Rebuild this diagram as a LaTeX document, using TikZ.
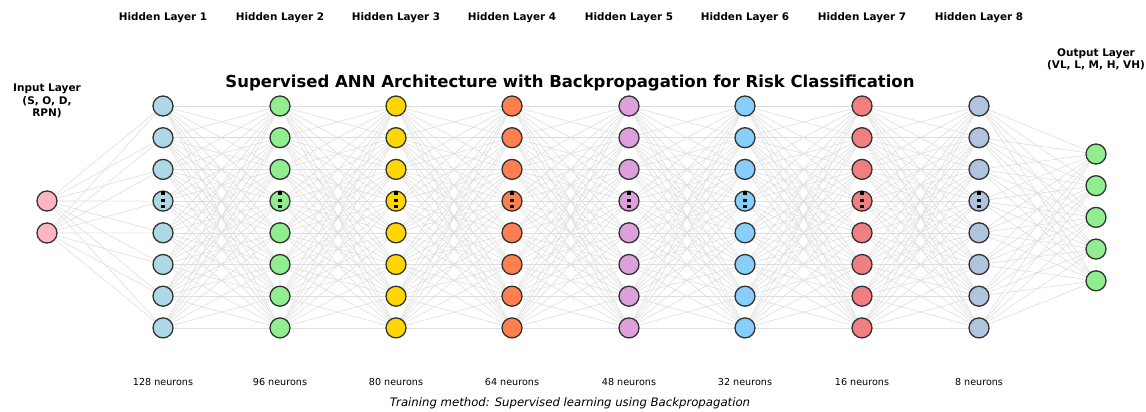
\documentclass[tikz,border=0pt]{standalone}
\usepackage{fontspec}
\setmainfont{DejaVu Sans}
\pgfdeclarelayer{bg}
\pgfsetlayers{bg,main}
\definecolor{cin}{HTML}{FFB6C1}
\definecolor{ca}{HTML}{ADD8E6}
\definecolor{cb}{HTML}{90EE90}
\definecolor{cc}{HTML}{FFD700}
\definecolor{cd}{HTML}{FF7F50}
\definecolor{ce}{HTML}{DDA0DD}
\definecolor{cf}{HTML}{87CEFA}
\definecolor{cg}{HTML}{F08080}
\definecolor{ch}{HTML}{B0C4DE}
\definecolor{cout}{HTML}{90EE90}
\begin{document}
\begin{tikzpicture}[x=1pt,y=-1pt,
  neuron/.style={circle,draw=black!80,line width=1.3pt,minimum size=20pt,inner sep=0pt},
  conn/.style={draw=black!13,line width=0.6pt},
  hlabel/.style={font=\fontsize{10.4}{12}\selectfont\bfseries},
  nlabel/.style={font=\fontsize{9.6}{11}\selectfont},
  sidelabel/.style={font=\fontsize{10.5}{12.6}\selectfont\bfseries,align=center}]
\useasboundingbox (0,0) rectangle (1146,412);
% hidden layers
\foreach \l/\x/\c/\n in {1/163/ca/128,2/280/cb/96,3/396/cc/80,4/512/cd/64,5/629/ce/48,6/745/cf/32,7/862/cg/16,8/979/ch/8}{
  \foreach \j in {1,...,8}{
    \node[neuron,fill=\c] (h\l-\j) at (\x,{106+31.7*(\j-1)}) {};
  }
  \node[hlabel] (hl\l) at (\x,18) {Hidden Layer \l};
  \node[nlabel] (nl\l) at (\x,382) {\n\ neurons};
  \foreach \d in {8,0.5,-5.5}{
    \fill[black] ([shift={(-1.8pt,\d pt-1.8pt)}]h\l-4.center) rectangle ++(3.6pt,3.6pt);
  }
}
% input
\node[neuron,fill=cin] (i1) at (47,201) {};
\node[neuron,fill=cin] (i2) at (47,233) {};
% output
\foreach \k in {1,...,5}{
  \node[neuron,fill=cout] (o\k) at (1096,{154+31.7*(\k-1)}) {};
}
% connections
\begin{pgfonlayer}{bg}
\foreach \i in {1,2}{\foreach \j in {1,...,8}{\draw[conn] (i\i.center) -- (h1-\j.center);}}
\foreach \l [evaluate=\l as \m using int(\l+1)] in {1,...,7}{
  \foreach \j in {1,...,8}{\foreach \k in {1,...,8}{\draw[conn] (h\l-\j.center) -- (h\m-\k.center);}}
}
\foreach \j in {1,...,8}{\foreach \k in {1,...,5}{\draw[conn] (h8-\j.center) -- (o\k.center);}}
\end{pgfonlayer}
% labels
\node[sidelabel] (inlab) at (47,101) {Input Layer\\(S, O, D,\\RPN)};
\node[sidelabel] (outlab) at (1096,59.5) {Output Layer\\(VL, L, M, H, VH)};
\node[font=\fontsize{16.5}{19}\selectfont\bfseries] (title) at (570,83) {Supervised ANN Architecture with Backpropagation for Risk Classification};
\node[font=\fontsize{11.7}{14}\selectfont\itshape] (method) at (570,403) {Training method: Supervised learning using Backpropagation};
\end{tikzpicture}
\end{document}
